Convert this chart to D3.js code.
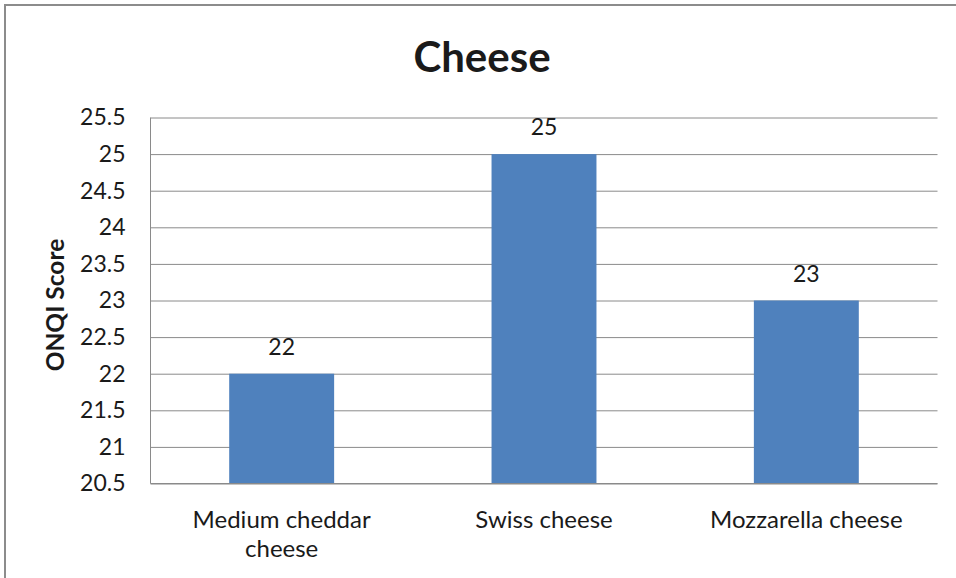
<!DOCTYPE html>
<html>
<head>
<meta charset="utf-8">
<script src="https://cdn.jsdelivr.net/npm/d3@7"></script>
<style>
  html, body { margin: 0; padding: 0; background: #fff; }
  svg { display: block; }
  text { font-family: Lato, "Open Sans", sans-serif; fill: #1a1a1a; }
</style>
</head>
<body>
<svg id="chart" width="956" height="578"></svg>
<script>
// Chart data
const categories = ["Medium cheddar cheese", "Swiss cheese", "Mozzarella cheese"];
const categoryLines = [["Medium cheddar", "cheese"], ["Swiss cheese"], ["Mozzarella cheese"]];
const scores = [22, 25, 23];
const yTicks = [20.5, 21, 21.5, 22, 22.5, 23, 23.5, 24, 24.5, 25, 25.5];
const chartTitle = "Cheese";
const yTitle = "ONQI Score";

const svg = d3.select("#chart");
const W = 956, H = 578;
const plot = { left: 150.5, right: 937.5, top: 117.5, bottom: 483.5 };

// Outer chart frame (extends past the right and bottom edges)
svg.append("rect")
  .attr("x", 5).attr("y", 5)
  .attr("width", W + 10).attr("height", H + 10)
  .attr("fill", "#fff")
  .attr("stroke", "#8c8c8c")
  .attr("stroke-width", 2);

const x = d3.scaleBand()
  .domain(categories)
  .range([plot.left, plot.right])
  .paddingInner(0).paddingOuter(0);

const y = d3.scaleLinear()
  .domain([20.5, 25.5])
  .range([plot.bottom, plot.top]);

// Horizontal gridlines
const yAxis = d3.axisLeft(y)
  .tickValues(yTicks)
  .tickSize(-(plot.right - plot.left))
  .tickPadding(25)
  .tickFormat(d => String(d));

const gy = svg.append("g")
  .attr("transform", `translate(${plot.left},0)`)
  .call(yAxis);
gy.select(".domain").remove();
gy.selectAll(".tick line").attr("stroke", "#8a8a8a").attr("stroke-width", 1);
gy.selectAll(".tick text")
  .attr("font-size", 23)
  .attr("fill", "#1a1a1a")
  .style("font-family", "Lato, sans-serif");

// Bars
const barFrac = 0.4;
svg.append("g").selectAll("rect")
  .data(categories)
  .join("rect")
  .attr("x", (d) => x(d) + x.bandwidth() * (1 - barFrac) / 2)
  .attr("width", x.bandwidth() * barFrac)
  .attr("y", (d, i) => y(scores[i]))
  .attr("height", (d, i) => y(20.5) - y(scores[i]))
  .attr("fill", "#4f81bd");

// Axis lines (left and bottom)
svg.append("line")
  .attr("x1", plot.left).attr("x2", plot.left)
  .attr("y1", plot.top).attr("y2", plot.bottom)
  .attr("stroke", "#8a8a8a");
svg.append("line")
  .attr("x1", plot.left).attr("x2", plot.right)
  .attr("y1", plot.bottom).attr("y2", plot.bottom)
  .attr("stroke", "#8a8a8a");

// Value labels
svg.append("g").selectAll("text")
  .data(categories)
  .join("text")
  .attr("x", d => x(d) + x.bandwidth() / 2)
  .attr("y", (d, i) => y(scores[i]) - 19)
  .attr("text-anchor", "middle")
  .attr("font-size", 23)
  .text((d, i) => scores[i]);

// Category labels
const catG = svg.append("g");
categories.forEach((c, i) => {
  const t = catG.append("text")
    .attr("x", x(c) + x.bandwidth() / 2)
    .attr("y", 528)
    .attr("text-anchor", "middle")
    .attr("font-size", 24);
  categoryLines[i].forEach((line, j) => {
    t.append("tspan")
      .attr("x", x(c) + x.bandwidth() / 2)
      .attr("dy", j === 0 ? 0 : 28.5)
      .text(line);
  });
});

// Title
svg.append("text")
  .attr("x", 482)
  .attr("y", 72)
  .attr("text-anchor", "middle")
  .attr("font-size", 42)
  .attr("font-weight", "bold")
  .text(chartTitle);

// Y axis title
svg.append("text")
  .attr("transform", `translate(64,305) rotate(-90)`)
  .attr("text-anchor", "middle")
  .attr("font-size", 24.5)
  .attr("font-weight", "bold")
  .text(yTitle);
</script>
</body>
</html>
